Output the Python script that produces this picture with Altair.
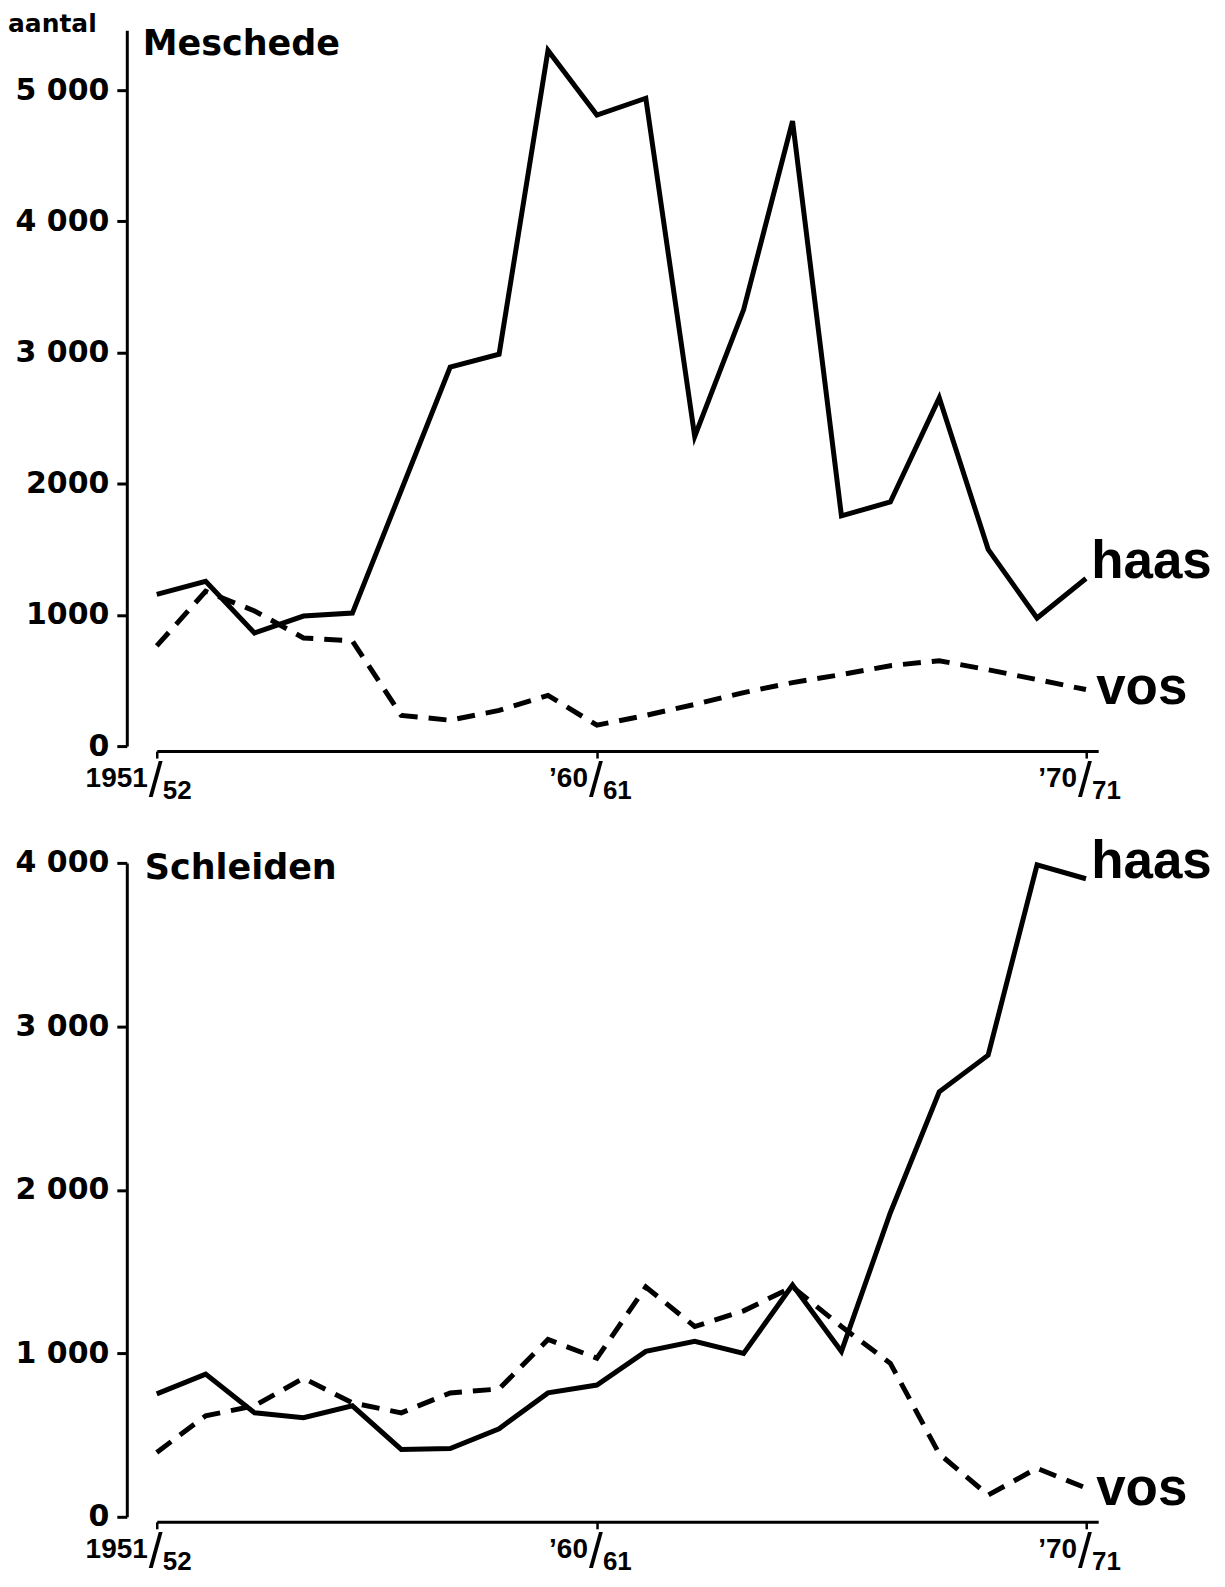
import altair as alt
import pandas as pd

# ---------------- data ----------------
season_labels = ["1951/52", "1952/53", "1953/54", "1954/55", "1955/56",
                 "1956/57", "1957/58", "1958/59", "1959/60", "1960/61",
                 "1961/62", "1962/63", "1963/64", "1964/65", "1965/66",
                 "1966/67", "1967/68", "1968/69", "1969/70", "1970/71"]
season_idx = list(range(len(season_labels)))

meschede_haas = [1157, 1256, 862, 991, 1014, 1950, 2890, 2988, 5303, 4811,
                 4939, 2360, 3328, 4765, 1755, 1861, 2655, 1500, 976, 1278]
meschede_vos = [764, 1180, 1030, 824, 802, 234, 197, 272, 386, 159,
                234, 318, 408, 484, 545, 613, 651, 582, 507, 431]

schleiden_haas = [752, 873, 636, 606, 679, 412, 418, 539, 758, 806,
                  1012, 1073, 1000, 1418, 1012, 1860, 2600, 2824, 3988, 3903]
schleiden_vos = [394, 618, 679, 848, 697, 636, 758, 782, 1085, 970,
                 1406, 1164, 1260, 1406, 1164, 939, 385, 133, 297, 176]

x_tick_idx = [0, 9, 19]
x_tick_prefix = ["1951", "\u201960", "\u201970"]
x_tick_suffix = ["52", "61", "71"]

top_y_values = [0, 1000, 2000, 3000, 4000, 5000]
top_y_labels = ["0", "1000", "2000", "3 000", "4 000", "5 000"]
bot_y_values = [0, 1000, 2000, 3000, 4000]
bot_y_labels = ["0", "1 000", "2 000", "3 000", "4 000"]

# ---------------- styling ----------------
W = 943
X_OFFSET = 5
LABEL_FONT = "Liberation Sans"
TITLE_FONT = "DejaVu Sans"


def label_expr(values, labels):
    expr = "''"
    for v, l in zip(values, labels):
        expr = f"datum.value == {v} ? '{l}' : ({expr})"
    return expr


def panel(haas, vos, height, ymax, yvals, ylabels, title, title_xy,
          haas_xy, vos_xy, extra_texts=()):
    xscale = alt.Scale(domain=[0, 19.25], nice=False, zero=False)
    yscale = alt.Scale(domain=[0, ymax], nice=False)
    xaxis = alt.Axis(values=x_tick_idx, labels=False, title=None, grid=False,
                     offset=X_OFFSET, domainColor="black", domainWidth=3,
                     tickColor="black", tickWidth=2.5, tickSize=7)
    yaxis = alt.Axis(values=yvals, labelExpr=label_expr(yvals, ylabels),
                     title=None, grid=False, offset=30, domainColor="black",
                     domainWidth=3, tickColor="black", tickWidth=3,
                     tickSize=10, labelFont=TITLE_FONT, labelFontWeight="bold",
                     labelFontSize=30, labelColor="black", labelPadding=8)
    X = alt.X("i:Q", scale=xscale, axis=xaxis)
    Y = alt.Y("v:Q", scale=yscale, axis=yaxis)

    df_h = pd.DataFrame({"i": season_idx, "v": haas})
    df_v = pd.DataFrame({"i": season_idx, "v": vos})
    line_h = alt.Chart(df_h).mark_line(
        color="black", strokeWidth=5, strokeJoin="miter", strokeCap="butt"
    ).encode(x=X, y=Y)
    line_v = alt.Chart(df_v).mark_line(
        color="black", strokeWidth=5, strokeDash=[18, 11], strokeCap="butt"
    ).encode(x=X, y=Y)

    base = height + X_OFFSET
    ticks = pd.DataFrame({"i": x_tick_idx, "pre": x_tick_prefix,
                          "suf": x_tick_suffix, "sl": ["/"] * len(x_tick_idx)})
    pre = alt.Chart(ticks).mark_text(
        align="right", baseline="alphabetic", dx=-9, font=LABEL_FONT,
        fontWeight="bold", fontSize=28, color="black"
    ).encode(x=X, y=alt.value(base + 36), text="pre:N")
    slash = alt.Chart(ticks).mark_text(
        align="center", baseline="alphabetic", dx=-1, font=LABEL_FONT,
        fontSize=50, color="black"
    ).encode(x=X, y=alt.value(base + 46), text="sl:N")
    suf = alt.Chart(ticks).mark_text(
        align="left", baseline="alphabetic", dx=6, font=LABEL_FONT,
        fontWeight="bold", fontSize=26, color="black"
    ).encode(x=X, y=alt.value(base + 48), text="suf:N")

    def txt(s, xy, font, size, align="left"):
        return alt.Chart(pd.DataFrame({"t": [s]})).mark_text(
            align=align, baseline="alphabetic", font=font, fontWeight="bold",
            fontSize=size, color="black"
        ).encode(x=alt.value(xy[0]), y=alt.value(xy[1]), text="t:N")

    layers = [line_h, line_v, pre, slash, suf,
              txt(title, title_xy, TITLE_FONT, 35),
              txt("haas", haas_xy, LABEL_FONT, 53),
              txt("vos", vos_xy, LABEL_FONT, 53)]
    for s, xy, font, size in extra_texts:
        layers.append(txt(s, xy, font, size))
    return alt.layer(*layers).properties(width=W, height=height)


top = panel(meschede_haas, meschede_vos, 717, 5457, top_y_values, top_y_labels,
            "Meschede", (-14, 25), (936, 549), (941, 675),
            extra_texts=[("aantal", (-149, 2), TITLE_FONT, 25)])
bottom = panel(schleiden_haas, schleiden_vos, 655, 4000, bot_y_values,
               bot_y_labels, "Schleiden", (-12, 16), (936, 15), (941, 643))

chart = alt.vconcat(top, bottom, spacing=117, bounds="flush").properties(
    padding={"left": 0, "top": 3, "right": 5, "bottom": 5}
).configure_view(stroke=None)

chart.save("out.html", embed_options={"renderer": "svg", "actions": False})
